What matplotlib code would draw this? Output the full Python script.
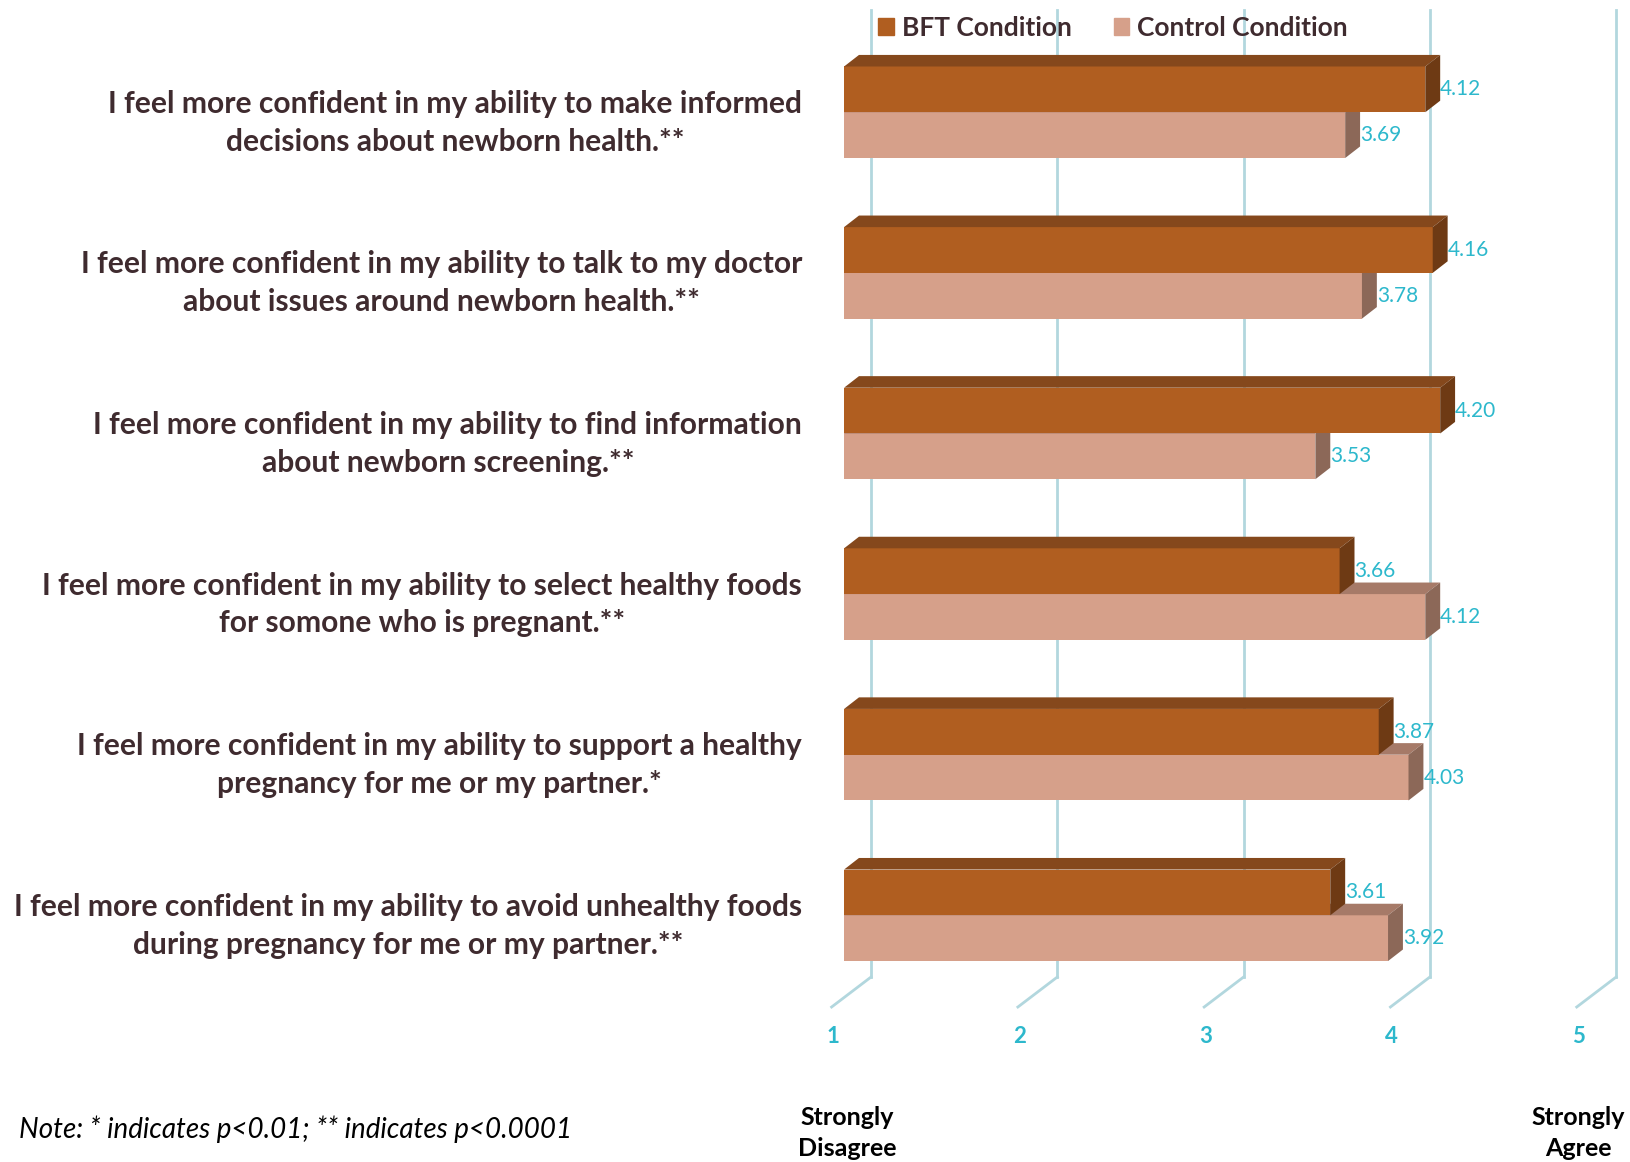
import numpy as np
import matplotlib.pyplot as plt
from matplotlib.patches import Polygon, Patch

# Survey items and mean ratings (1 = Strongly Disagree, 5 = Strongly Agree)
labels = [
    "I feel more confident in my ability to make informed\ndecisions about newborn health.**",
    "I feel more confident in my ability to talk to my doctor\nabout issues around newborn health.**",
    "I feel more confident in my ability to find information\nabout newborn screening.**",
    "I feel more confident in my ability to select healthy foods\nfor somone who is pregnant.**",
    "I feel more confident in my ability to support a healthy\npregnancy for me or my partner.*",
    "I feel more confident in my ability to avoid unhealthy foods\nduring pregnancy for me or my partner.**",
]
bft = [4.12, 4.16, 4.20, 3.66, 3.87, 3.61]
control = [3.69, 3.78, 3.53, 4.12, 4.03, 3.92]
ticks = [1, 2, 3, 4, 5]
series_names = ["BFT Condition", "Control Condition"]
note = "Note: * indicates p<0.01; ** indicates p<0.0001"

# colours: front, top, side
bft_cols = ("#B05E20", "#85481C", "#6E3A14")
ctl_cols = ("#D6A08A", "#A67A68", "#8C6858")
teal = "#2DB8CC"
text_col = "#3F2B2F"
grid_col = "#B2D7DE"

FONT = "Lato"
plt.rcParams['font.family'] = [FONT, 'DejaVu Sans']

# 3D look offsets (in data units)
dx, dy = 0.08, 0.072
h = 0.285
wall_dx = 0.145


def bar3d(ax, y, v, cols, z):
    top = y - h / 2
    bot = y + h / 2
    ax.barh(y, v - 1, left=1, height=h, color=cols[0], edgecolor='none', zorder=z)
    ax.add_patch(Polygon([(1, top), (v, top), (v + dx, top - dy), (1 + dx, top - dy)],
                         closed=True, color=cols[1], lw=0, zorder=z))
    ax.add_patch(Polygon([(v, top), (v, bot), (v + dx, bot - dy), (v + dx, top - dy)],
                         closed=True, color=cols[2], lw=0, zorder=z))


def main():
    fig = plt.figure(figsize=(16.3, 11.62), dpi=100)
    ax = fig.add_axes([780 / 1630, 0, 850 / 1630, 1])
    ax.set_xlim(0.656, 5.219)
    ax.set_ylim(6.536, -0.699)
    ax.axis('off')

    # back wall gridlines and floor lines
    for t in ticks:
        ax.plot([t + wall_dx, t + wall_dx], [-0.634, 5.384], color=grid_col, lw=2.0, zorder=1)
        ax.plot([t + wall_dx, t - 0.067], [5.384, 5.571], color=grid_col, lw=2.0, zorder=1)
        ax.text(t - 0.06, 5.754, str(t), color=teal, fontsize=16, fontweight='bold',
                ha='center', va='center')

    for i in range(len(labels)):
        y_b = i - h / 2
        y_c = i + h / 2
        bar3d(ax, y_c, control[i], ctl_cols, 2 + 2 * i)
        bar3d(ax, y_b, bft[i], bft_cols, 3 + 2 * i)
        ax.text(control[i] + dx, y_c, f"{control[i]:.2f}", color=teal, fontsize=15,
                ha='left', va='center', zorder=20)
        ax.text(bft[i] + dx, y_b, f"{bft[i]:.2f}", color=teal, fontsize=15,
                ha='left', va='center', zorder=20)
        ax.text(0.775, i + 0.065, labels[i], color=text_col, fontsize=21.6, fontweight='bold',
                ha='right', va='center', multialignment='center', linespacing=1.42)

    handles = [Patch(color=bft_cols[0]), Patch(color=ctl_cols[0])]
    ax.legend(handles, series_names, ncol=2, frameon=False, loc='center left',
              bbox_to_anchor=(0.115, 1 - 27.6 / 1162), borderpad=0, borderaxespad=0,
              handlelength=0.6, handleheight=0.6, handletextpad=0.3, columnspacing=1.6,
              prop={'family': FONT, 'weight': 'bold', 'size': 19},
              labelcolor=text_col)

    ax.text(1.016, 6.355, "Strongly\nDisagree", fontsize=18, fontweight='bold',
            ha='center', va='center', linespacing=1.45)
    ax.text(4.94, 6.355, "Strongly\nAgree", fontsize=18, fontweight='bold',
            ha='center', va='center', linespacing=1.45)

    fig.text(18.7 / 1630, 1 - 1129 / 1162, note, fontsize=20, style='italic',
             ha='left', va='center')

    fig.savefig('out.png', dpi=100)
    plt.close(fig)


if __name__ == "__main__":
    main()
